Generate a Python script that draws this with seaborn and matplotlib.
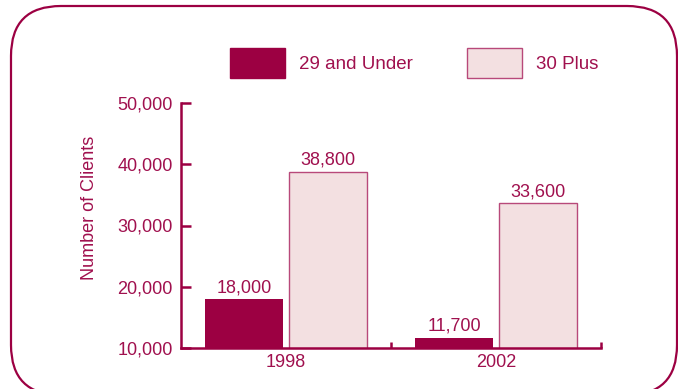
import matplotlib
matplotlib.use("Agg")
import matplotlib.pyplot as plt
from matplotlib.patches import FancyBboxPatch, Patch
from matplotlib.transforms import IdentityTransform
from matplotlib.ticker import FuncFormatter, FixedLocator
import seaborn as sns
import pandas as pd

years = ["1998", "2002"]
groups = ["29 and Under", "30 Plus"]
under_29 = [18000, 11700]
plus_30 = [38800, 33600]

DARK = "#9C0042"
LIGHT = "#F3E0E1"
LIGHT_EDGE = "#B8497A"
TEXT = "#A0104E"

df = pd.DataFrame({
    "Year": years * 2,
    "Group": [groups[0]] * len(years) + [groups[1]] * len(years),
    "Clients": under_29 + plus_30,
})

sns.set_theme(style="white")
plt.rcParams["font.family"] = ["Liberation Sans", "DejaVu Sans"]

fig = plt.figure(figsize=(6.78, 3.89), dpi=100)
ax = fig.add_axes([181 / 678, 1 - 348 / 389, 420 / 678, 245 / 389])

sns.barplot(data=df, x="Year", y="Clients", hue="Group", order=years,
            hue_order=groups, palette=[DARK, LIGHT], gap=0.08,
            legend=False, ax=ax, saturation=1)

for patch in ax.patches:
    fc = patch.get_facecolor()
    if abs(fc[0] - 0xF3 / 255) < 0.02:
        patch.set_edgecolor(LIGHT_EDGE)
        patch.set_linewidth(1.0)
    else:
        patch.set_edgecolor(DARK)
        patch.set_linewidth(0)

for cont in ax.containers:
    ax.bar_label(cont, labels=[f"{v:,.0f}" for v in cont.datavalues],
                 padding=2, color=TEXT, fontsize=13)

ax.set_xlim(-0.5, 1.5)
ax.set_ylim(10000, 50000)
ax.set_yticks([10000, 20000, 30000, 40000, 50000])
ax.yaxis.set_major_formatter(FuncFormatter(lambda v, p: f"{v:,.0f}"))
ax.set_xlabel("")
ax.set_ylabel("")

for side in ("top", "right"):
    ax.spines[side].set_visible(False)
for side in ("left", "bottom"):
    ax.spines[side].set_color(DARK)
    ax.spines[side].set_linewidth(1.8)

ax.tick_params(axis="y", direction="in", length=7.5, width=1.8, color=DARK,
               labelcolor=TEXT, labelsize=13, pad=6, left=True)
ax.tick_params(axis="x", which="major", length=0, labelcolor=TEXT,
               labelsize=13, pad=4)
ax.xaxis.set_minor_locator(FixedLocator([0.5, 1.5]))
ax.tick_params(axis="x", which="minor", direction="in", length=4.5,
               width=1.8, color=DARK, bottom=True)

fig.text(89 / 678, 1 - 208 / 389, "Number of Clients", rotation=90,
         ha="center", va="center", color=TEXT, fontsize=13)

# legend keys and labels
handles = [Patch(facecolor=DARK, edgecolor=DARK, linewidth=1.0),
           Patch(facecolor=LIGHT, edgecolor=LIGHT_EDGE, linewidth=1.0)]
leg = fig.legend(handles, groups, loc="center", bbox_to_anchor=(0.611, 1 - 63 / 389),
                 ncol=2, frameon=False, fontsize=13.5, labelcolor=TEXT,
                 handlelength=2.95, handleheight=2.1, handletextpad=0.75,
                 columnspacing=2.85)

# rounded frame around the whole chart
frame = FancyBboxPatch((11, -6), 666, 389, boxstyle="round,pad=0,rounding_size=50",
                       transform=IdentityTransform(), facecolor="none",
                       edgecolor=DARK, linewidth=1.6, clip_on=False)
fig.patches.append(frame)

fig.savefig("out.png", dpi=100)
